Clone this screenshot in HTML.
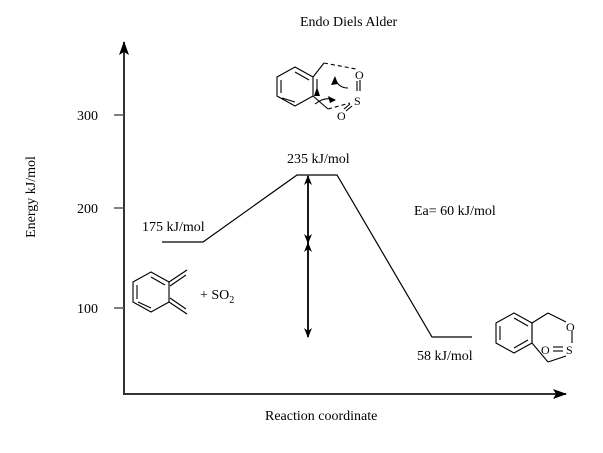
<!DOCTYPE html>
<html><head><meta charset="utf-8"><style>
html,body{margin:0;padding:0;background:#fff;}
svg{display:block;}
text{font-family:"Liberation Serif",serif;fill:#000;}
</style></head><body>
<svg width="603" height="453" viewBox="0 0 603 453" xmlns="http://www.w3.org/2000/svg">
<defs>
<marker id="ah" markerWidth="10" markerHeight="10" refX="9" refY="5" orient="auto-start-reverse" markerUnits="userSpaceOnUse">
<path d="M0,1 L10,5 L0,9 L3,5 Z" fill="#000"/>
</marker>
<marker id="big" markerWidth="14" markerHeight="14" refX="13" refY="7" orient="auto" markerUnits="userSpaceOnUse">
<path d="M0,2 L14,7 L0,12 L3,7 Z" fill="#000"/>
</marker>
</defs>
<text x="300" y="26" font-size="14">Endo Diels Alder</text>
<!-- axes -->
<line x1="124" y1="395" x2="124" y2="42" stroke="#333" stroke-width="2" marker-end="url(#big)"/>
<line x1="124" y1="394" x2="566" y2="394" stroke="#333" stroke-width="2" marker-end="url(#big)"/>
<line x1="114" y1="115" x2="124" y2="115" stroke="#555" stroke-width="1.5"/>
<line x1="114" y1="208" x2="124" y2="208" stroke="#555" stroke-width="1.5"/>
<line x1="114" y1="308" x2="124" y2="308" stroke="#555" stroke-width="1.5"/>
<text x="77" y="120" font-size="14">300</text>
<text x="77" y="213" font-size="14">200</text>
<text x="77" y="313" font-size="14">100</text>
<text transform="translate(35,197) rotate(-90)" text-anchor="middle" font-size="14">Energy kJ/mol</text>
<text x="265" y="420" font-size="14">Reaction coordinate</text>
<!-- profile -->
<polyline points="162,242 203,242 297,175 337,175 432,337 472,337" fill="none" stroke="#000" stroke-width="1.2"/>
<text x="142" y="231" font-size="14">175 kJ/mol</text>
<text x="287" y="163" font-size="14">235 kJ/mol</text>
<text x="414" y="215" font-size="14">Ea= 60 kJ/mol</text>
<text x="417" y="360" font-size="14">58 kJ/mol</text>
<!-- arrows -->
<line x1="308" y1="243" x2="308" y2="176" stroke="#000" stroke-width="1.8" marker-start="url(#ah)" marker-end="url(#ah)"/>
<line x1="308" y1="337" x2="308" y2="243" stroke="#000" stroke-width="1.8" marker-start="url(#ah)" marker-end="url(#ah)"/>
<!-- reactant -->
<g stroke="#000" stroke-width="1.1" fill="none">
<polygon points="151,272 169,282 169,302 151,312 133,302 133,282"/>
<line x1="151" y1="277" x2="165" y2="285"/>
<line x1="137" y1="285" x2="137" y2="299"/>
<line x1="151" y1="307" x2="165" y2="299" stroke="none"/>
<line x1="138" y1="302" x2="151" y2="308"/>
<line x1="169" y1="282" x2="187" y2="270"/>
<line x1="170" y1="286" x2="186" y2="275"/>
<line x1="169" y1="302" x2="187" y2="314"/>
<line x1="170" y1="298" x2="186" y2="309"/>
</g>
<text x="200" y="299" font-size="14">+ SO<tspan font-size="10" dy="4">2</tspan></text>
<!-- TS -->
<g stroke="#000" stroke-width="1.1" fill="none">
<polygon points="295,67 313,77 313,96 295,106 277,96 277,77"/>
<line x1="295" y1="72" x2="309" y2="80"/>
<line x1="281" y1="80" x2="281" y2="93"/>
<line x1="282" y1="98" x2="295" y2="102" />
<line x1="313" y1="77" x2="324" y2="63"/>
<line x1="313" y1="96" x2="328" y2="109"/>
<line x1="317" y1="79" x2="317" y2="94"/>
<line x1="324" y1="63" x2="356" y2="69" stroke-dasharray="4,3"/>
<line x1="328" y1="109" x2="350" y2="103" stroke-dasharray="4,3"/>
<line x1="360" y1="80" x2="360" y2="91"/>
<line x1="357" y1="81" x2="357" y2="91"/>
<line x1="352" y1="106" x2="346" y2="111"/>
<line x1="350" y1="104" x2="344" y2="109"/>
<path d="M348,88 Q338,88 335,78"/>
<path d="M315,104 Q325,96 335,100"/>
</g>
<path d="M335,76 L331,85 L338,84 Z" fill="#000"/>
<path d="M336,100 L328,96 L330,103 Z" fill="#000"/>
<path d="M317,87 L314,96 L320,96 Z" fill="#000"/>
<text x="355" y="79" font-size="12">O</text>
<text x="354" y="105" font-size="12">S</text>
<text x="337" y="120" font-size="12">O</text>
<!-- product -->
<g stroke="#000" stroke-width="1.1" fill="none">
<polygon points="514,313 532,323 532,343 514,353 496,343 496,323"/>
<line x1="514" y1="318" x2="528" y2="326"/>
<line x1="500" y1="326" x2="500" y2="340"/>
<line x1="514" y1="348" x2="528" y2="340"/>
<line x1="532" y1="323" x2="532" y2="343"/>
<line x1="532" y1="323" x2="548" y2="313"/>
<line x1="548" y1="313" x2="566" y2="322"/>
<line x1="532" y1="343" x2="548" y2="362"/>
<line x1="548" y1="362" x2="566" y2="356"/>
<line x1="572" y1="331" x2="572" y2="343"/>
<line x1="553" y1="347" x2="563" y2="347"/>
<line x1="553" y1="351" x2="563" y2="351"/>
</g>
<text x="566" y="331" font-size="12">O</text>
<text x="566" y="354" font-size="12">S</text>
<text x="541" y="354" font-size="12">O</text>
</svg>
</body></html>
